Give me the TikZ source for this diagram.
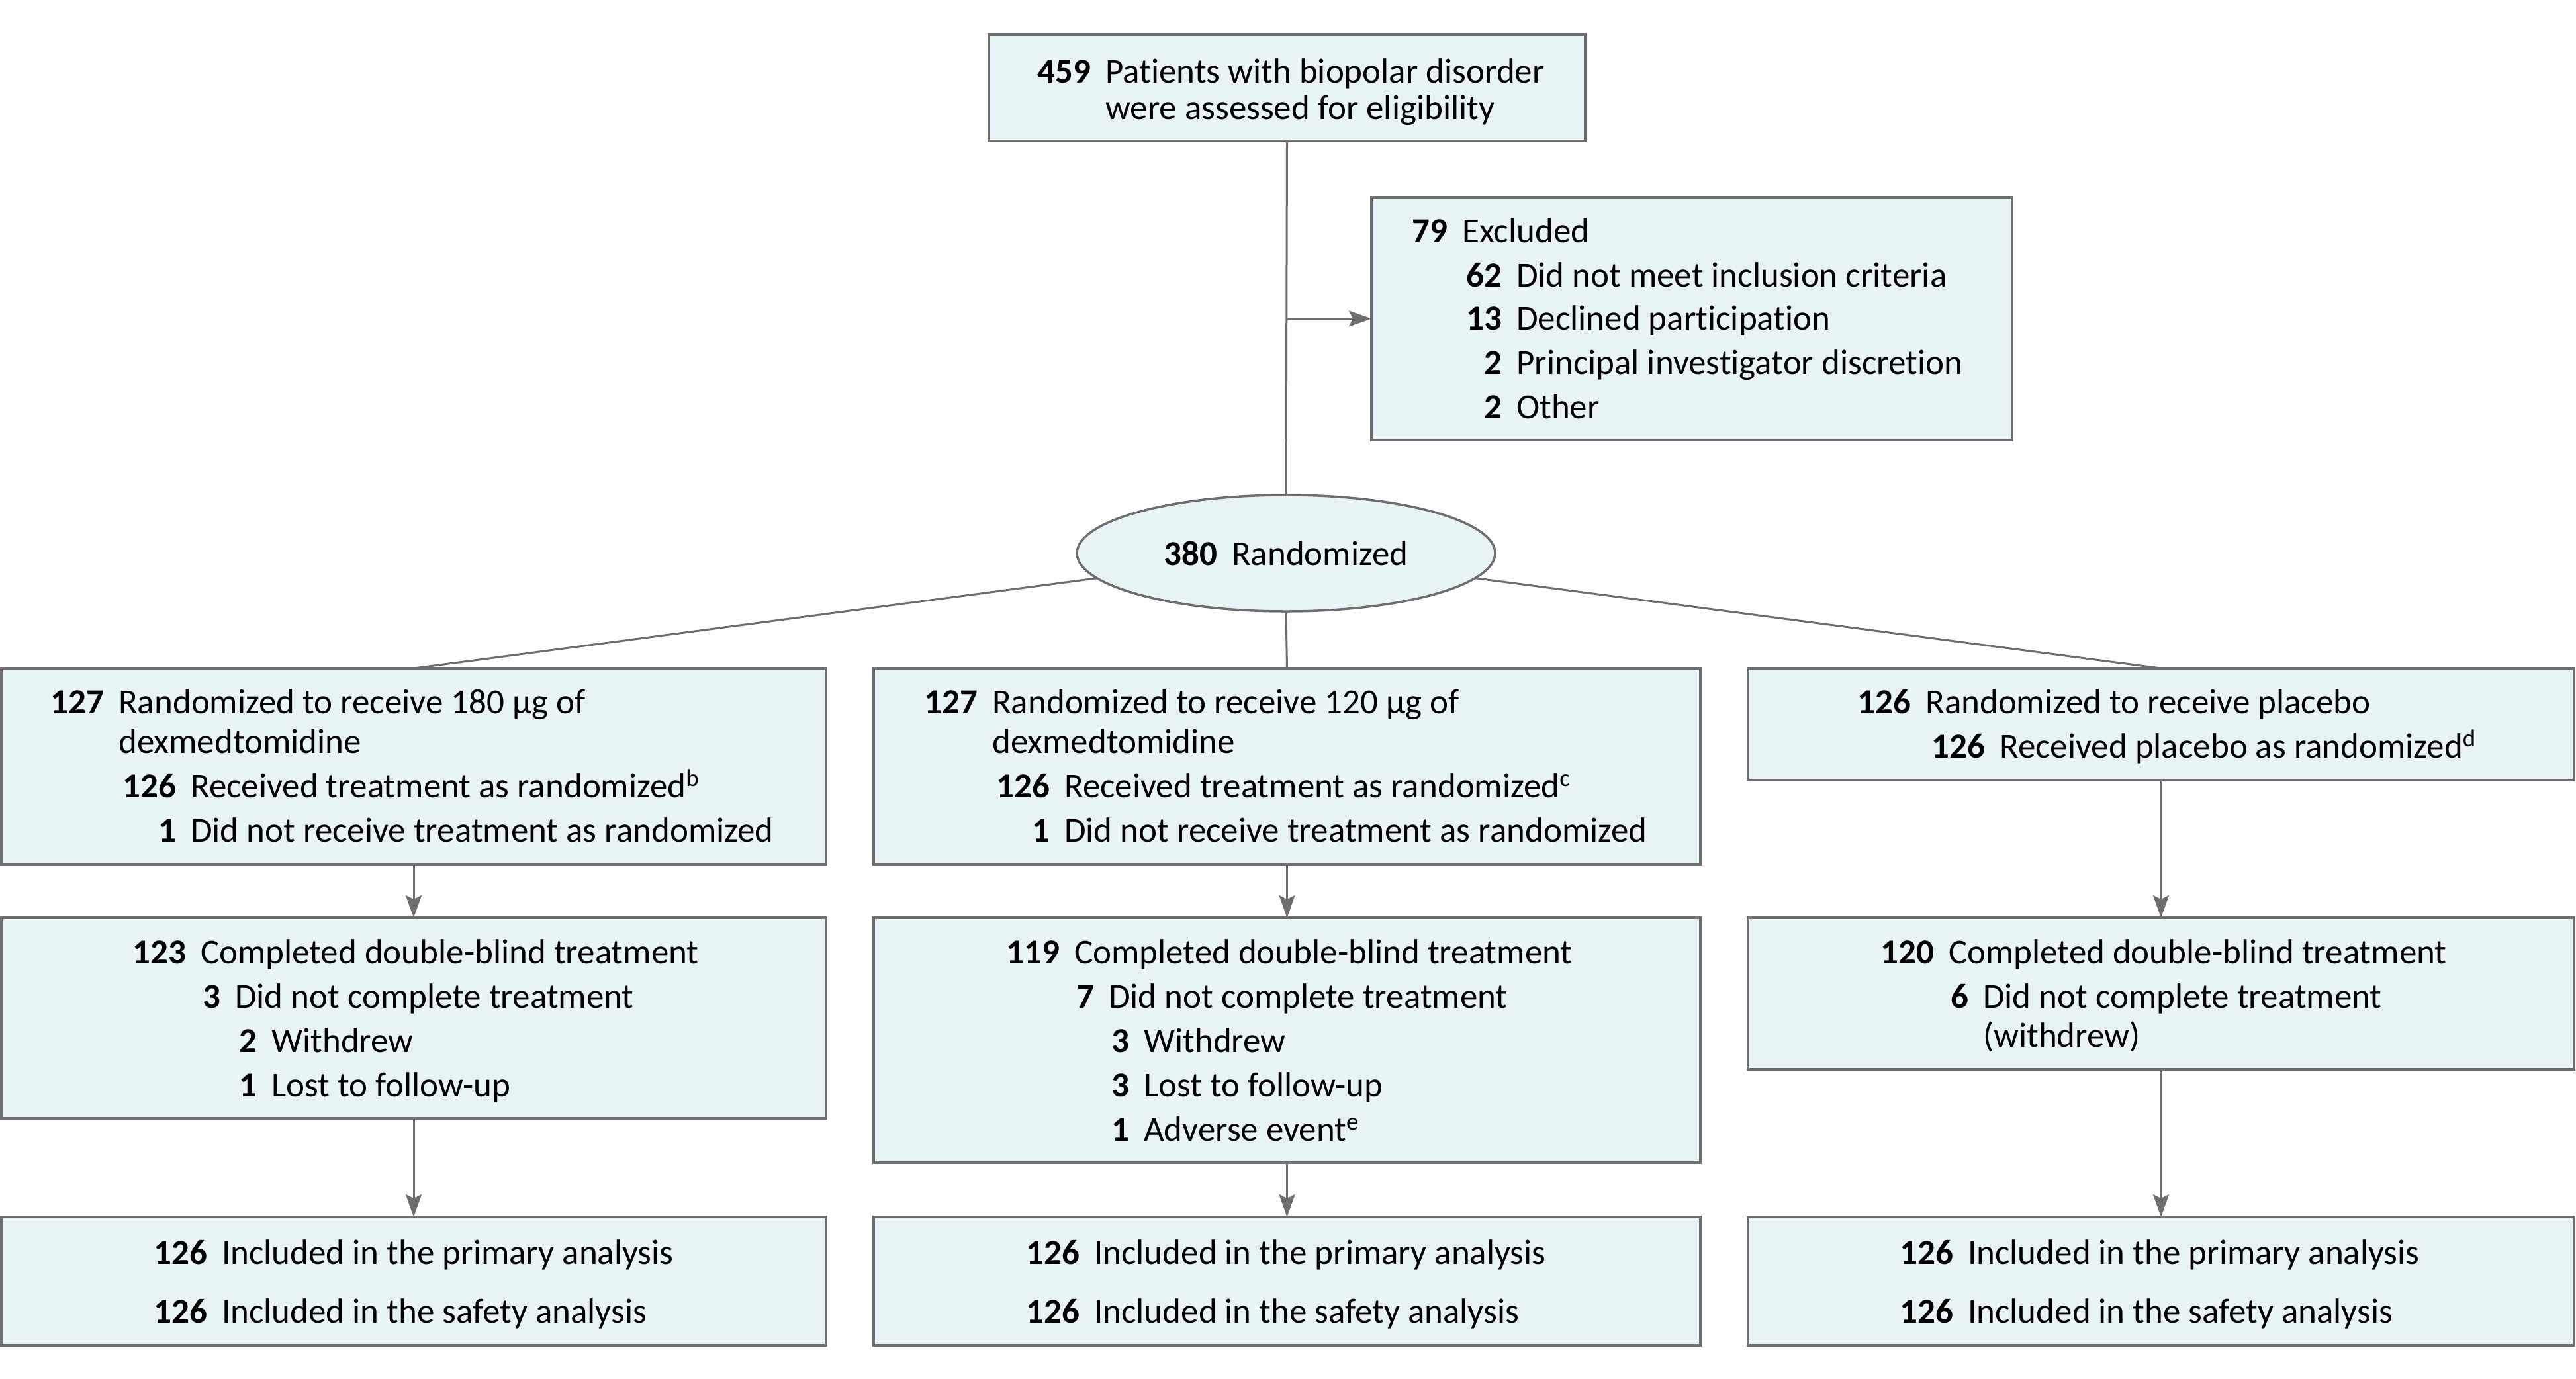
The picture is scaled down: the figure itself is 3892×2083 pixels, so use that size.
\documentclass[tikz,border=0pt]{standalone}
\usepackage{fontspec}
\setmainfont{Carlito}[Ligatures={NoCommon}]
\usetikzlibrary{shapes.geometric,arrows.meta}
\definecolor{boxfill}{RGB}{232,243,245}
\definecolor{linegray}{RGB}{110,110,112}
\newcommand{\bx}[5]{\node[flowbox, minimum width=#4pt, minimum height=#5pt] (#1) at (#2,#3) {};}
\newcommand{\ent}[5]{\node[txt] (#1) at (#2,#3) {\llap{\textbf{#4}\hspace{22pt}}#5};}
\newcommand{\sups}[1]{\raisebox{17pt}{\fontsize{37}{40}\selectfont #1}}
\begin{document}
\begin{tikzpicture}[x=1pt,y=-1pt,
  flowbox/.style={draw=linegray, fill=boxfill, line width=3.5pt, inner sep=0pt, outer sep=0pt},
  txt/.style={anchor=base west, inner sep=0pt, font=\fontsize{53}{60}\selectfont},
  conn/.style={draw=linegray, line width=3pt},
  arr/.style={conn, -{Stealth[length=34pt, width=24pt, inset=6pt]}}]
\useasboundingbox (0,0) rectangle (3892,2083);

% boxes
\bx{top}{1944.5}{132.5}{901}{161}
\bx{excl}{2556}{481.5}{968}{367}
\node[flowbox, ellipse, minimum width=632pt, minimum height=176pt, font=\fontsize{53}{60}\selectfont] (rand) at (1943,836) {\textbf{380}\hspace{22pt}Randomized};
\bx{L1}{625}{1158}{1246}{296}
\bx{M1}{1944.5}{1158}{1249}{296}
\bx{R1}{3265}{1094.5}{1248}{169}
\bx{L2}{625}{1538.5}{1246}{303}
\bx{M2}{1944.5}{1572}{1249}{370}
\bx{R2}{3265}{1501.5}{1248}{229}
\bx{L3}{625}{1936}{1246}{194}
\bx{M3}{1944.5}{1936}{1249}{194}
\bx{R3}{3265}{1936}{1248}{194}

% connectors
\coordinate (split) at (1943,481.5);
\draw[conn] (top.south) -- (rand.north);
\draw[arr] (split) -- (excl.west);
\draw[conn] (rand) -- (L1.north);
\draw[conn] (rand.south) -- (M1.north);
\draw[conn] (rand) -- (R1.north);
\draw[arr] (L1.south) -- (L2.north);
\draw[arr] (M1.south) -- (M2.north);
\draw[arr] (R1.south) -- (R2.north);
\draw[arr] (L2.south) -- (L3.north);
\draw[arr] (M2.south) -- (M3.north);
\draw[arr] (R2.south) -- (R3.north);

% top text
\ent{t1}{1670}{125}{459}{Patients with biopolar disorder}
\ent{t2}{1670}{180}{}{were assessed for eligibility}

% excluded
\ent{e1}{2209}{366}{79}{Excluded}
\ent{e2}{2291}{433}{62}{Did not meet inclusion criteria}
\ent{e3}{2291}{498}{13}{Declined participation}
\ent{e4}{2291}{565}{2}{Principal investigator discretion}
\ent{e5}{2291}{632}{2}{Other}

% row 1
\ent{l11}{179}{1078}{127}{Randomized to receive 180 µg of}
\ent{l12}{179}{1138}{}{dexmedtomidine}
\ent{l13}{288}{1205}{126}{Received treatment as randomized\sups{b}}
\ent{l14}{288}{1272}{1}{Did not receive treatment as randomized}

\ent{m11}{1499}{1078}{127}{Randomized to receive 120 µg of}
\ent{m12}{1499}{1138}{}{dexmedtomidine}
\ent{m13}{1608}{1205}{126}{Received treatment as randomized\sups{c}}
\ent{m14}{1608}{1272}{1}{Did not receive treatment as randomized}

\ent{r11}{2909}{1078}{126}{Randomized to receive placebo}
\ent{r12}{3021}{1145}{126}{Received placebo as randomized\sups{d}}

% row 2
\ent{l21}{303}{1456}{123}{Completed double-blind treatment}
\ent{l22}{355}{1523}{3}{Did not complete treatment}
\ent{l23}{410}{1590}{2}{Withdrew}
\ent{l24}{410}{1657}{1}{Lost to follow-up}

\ent{m21}{1623}{1456}{119}{Completed double-blind treatment}
\ent{m22}{1675}{1523}{7}{Did not complete treatment}
\ent{m23}{1728}{1590}{3}{Withdrew}
\ent{m24}{1728}{1657}{3}{Lost to follow-up}
\ent{m25}{1728}{1724}{1}{Adverse event\sups{e}}

\ent{r21}{2944}{1456}{120}{Completed double-blind treatment}
\ent{r22}{2996}{1523}{6}{Did not complete treatment}
\ent{r23}{2996}{1582}{}{(withdrew)}

% row 3
\ent{l31}{335}{1910}{126}{Included in the primary analysis}
\ent{l32}{335}{1999}{126}{Included in the safety analysis}
\ent{m31}{1653}{1910}{126}{Included in the primary analysis}
\ent{m32}{1653}{1999}{126}{Included in the safety analysis}
\ent{r31}{2973}{1910}{126}{Included in the primary analysis}
\ent{r32}{2973}{1999}{126}{Included in the safety analysis}
\end{tikzpicture}
\end{document}
